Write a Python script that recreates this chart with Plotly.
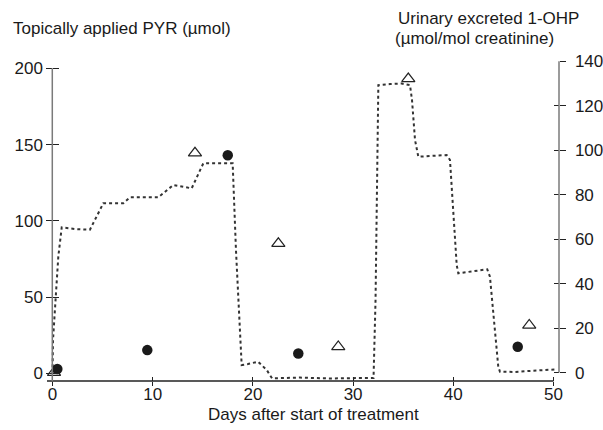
import plotly.graph_objects as go

# ---------------- data ----------------
line_day = [0, 0.05, 0.58, 0.92, 2.25, 3.74, 5.07, 7.07, 7.73, 10.56,
            12.06, 13.89, 15.05, 17.98, 18.31, 18.88, 19.51, 20.51, 21.38, 21.91,
            24.7, 27.69, 30.69, 32.04, 32.24, 32.52, 33.68, 34.85, 35.68, 35.88,
            36.18, 36.51, 37.68, 39.34, 39.67, 40.0, 40.34, 40.5, 41.67, 43.39,
            43.66, 44.06, 44.49, 44.66, 46.16, 47.95, 50.32]
line_pyr = [0, 21.8, 76.5, 95.7, 94.6, 94.2, 111.5, 111.5, 115.4, 115.4,
            123.5, 121.3, 137.7, 137.7, 80.9, 5.4, 6.1, 7.6, 2.2, -3.3,
            -2.8, -3.4, -3.1, -3.1, 48.1, 189.0, 189.7, 190.0, 189.0, 179.2,
            153.0, 142.0, 142.5, 143.1, 139.9, 109.2, 71.0, 65.6, 66.8, 68.2,
            63.3, 35.0, 4.3, 1.0, 0.9, 1.7, 2.6]

circle_day = [0.48, 9.46, 17.49, 24.53, 46.43]
circle_ohp = [1.6, 10.1, 97.7, 8.6, 11.6]

tri_day = [0.15, 14.22, 22.54, 28.52, 35.51, 47.58]
tri_ohp = [0, 98.7, 58.0, 11.6, 132.1, 21.3]

x_ticks = [0, 10, 20, 30, 40, 50]
left_ticks = [0, 50, 100, 150, 200]
right_ticks = [0, 20, 40, 60, 80, 100, 120, 140]

left_title = "Topically applied PYR (µmol)"
right_title_1 = "Urinary excreted 1-OHP"
right_title_2 = "(µmol/mol creatinine)"
x_title = "Days after start of treatment"

# ---------------- layout geometry ----------------
W, H = 603, 430
L, R, T, B = 47, 44, 61, 49
PW = W - L - R
PH = H - T - B


def px(xpix):
    return (xpix - L) / PW


def py(ypix):
    return (H - B - ypix) / PH


XR = [-0.549, 50.55]
YL = [-5.05, 204.8]
YR = [-3.8, 140.1]

FONT = "Liberation Sans, Arial, sans-serif"
TXT = "#1a1a1a"
TICKC = "#222222"
AXC = "#7a7a7a"
FS = 17

fig = go.Figure()

fig.add_trace(go.Scatter(
    x=line_day, y=line_pyr, mode="lines", xaxis="x", yaxis="y",
    line=dict(color="#333333", width=2, dash="3px,3px"),
    hoverinfo="skip", showlegend=False))

fig.add_trace(go.Scatter(
    x=tri_day, y=tri_ohp, mode="markers", xaxis="x", yaxis="y2",
    marker=dict(symbol="triangle-up-open", size=11.5, color="#222222",
                line=dict(width=1.2, color="#222222")),
    showlegend=False))

fig.add_trace(go.Scatter(
    x=circle_day, y=circle_ohp, mode="markers", xaxis="x", yaxis="y2",
    marker=dict(symbol="circle", size=10.5, color="#1a1a1a"),
    showlegend=False))

# empty helper traces so the tick-only overlay axes exist
fig.add_trace(go.Scatter(x=[None], y=[None], xaxis="x2", yaxis="y", showlegend=False, hoverinfo="skip"))
fig.add_trace(go.Scatter(x=[None], y=[None], xaxis="x", yaxis="y3", showlegend=False, hoverinfo="skip"))
fig.add_trace(go.Scatter(x=[None], y=[None], xaxis="x", yaxis="y4", showlegend=False, hoverinfo="skip"))

common = dict(showgrid=False, zeroline=False, showline=False, tickcolor=TICKC,
              tickwidth=1.2, automargin=False,
              tickfont=dict(family=FONT, size=FS, color=TXT))

ypos = px(52.3)

fig.update_layout(
    width=W, height=H,
    margin=dict(l=L, r=R, t=T, b=B, pad=0, autoexpand=False),
    paper_bgcolor="white", plot_bgcolor="white",
    font=dict(family=FONT, size=FS, color=TXT),
    xaxis=dict(range=XR, tickmode="array", tickvals=x_ticks, ticks="outside",
               ticklen=4, anchor="y", domain=[0, 1], ticklabelstandoff=-6, **common),
    xaxis2=dict(range=XR, tickmode="array", tickvals=x_ticks, ticks="inside",
                ticklen=4, anchor="y", overlaying="x", showticklabels=False, **common),
    yaxis=dict(range=YL, tickmode="array", tickvals=left_ticks, ticks="outside",
               ticklen=6, anchor="free", position=ypos, domain=[0, 1], **common),
    yaxis3=dict(range=YL, tickmode="array", tickvals=left_ticks, ticks="inside",
                ticklen=6, anchor="free", position=ypos, overlaying="y",
                showticklabels=False, **common),
    yaxis2=dict(range=YR, tickmode="array", tickvals=right_ticks, ticks="outside",
                ticklen=5.5, anchor="x", side="right", overlaying="y",
                ticklabelstandoff=6, **common),
    yaxis4=dict(range=YR, tickmode="array", tickvals=right_ticks, ticks="inside",
                ticklen=5.5, anchor="x", side="right", overlaying="y",
                showticklabels=False, **common),
    shapes=[
        # x axis line
        dict(type="line", xref="x", yref="paper", x0=XR[0], x1=50, y0=0, y1=0,
             line=dict(color="#222222", width=1.3)),
        # left y axis line
        dict(type="line", xref="paper", yref="y", x0=ypos, x1=ypos, y0=YL[0], y1=200,
             line=dict(color=AXC, width=1.5)),
        # right y axis line
        dict(type="line", xref="paper", yref="y2", x0=1, x1=1, y0=0, y1=140,
             line=dict(color=AXC, width=1.5)),
    ],
    annotations=[
        dict(text=left_title, xref="paper", yref="paper", x=px(11), y=py(29),
             xanchor="left", yanchor="middle", showarrow=False,
             font=dict(family=FONT, size=FS, color=TXT)),
        dict(text=right_title_1, xref="paper", yref="paper", x=px(396), y=py(18.5),
             xanchor="left", yanchor="middle", showarrow=False,
             font=dict(family=FONT, size=FS, color=TXT)),
        dict(text=right_title_2, xref="paper", yref="paper", x=px(392.5), y=py(38),
             xanchor="left", yanchor="middle", showarrow=False,
             font=dict(family=FONT, size=FS, color=TXT)),
        dict(text=x_title, xref="paper", yref="paper", x=px(313.5), y=py(414),
             xanchor="center", yanchor="middle", showarrow=False,
             font=dict(family=FONT, size=FS, color=TXT)),
    ],
)

fig.write_html(
    "out.html",
    config={"displayModeBar": False},
    post_script="document.body.style.margin='0';document.body.style.overflow='hidden';",
)
